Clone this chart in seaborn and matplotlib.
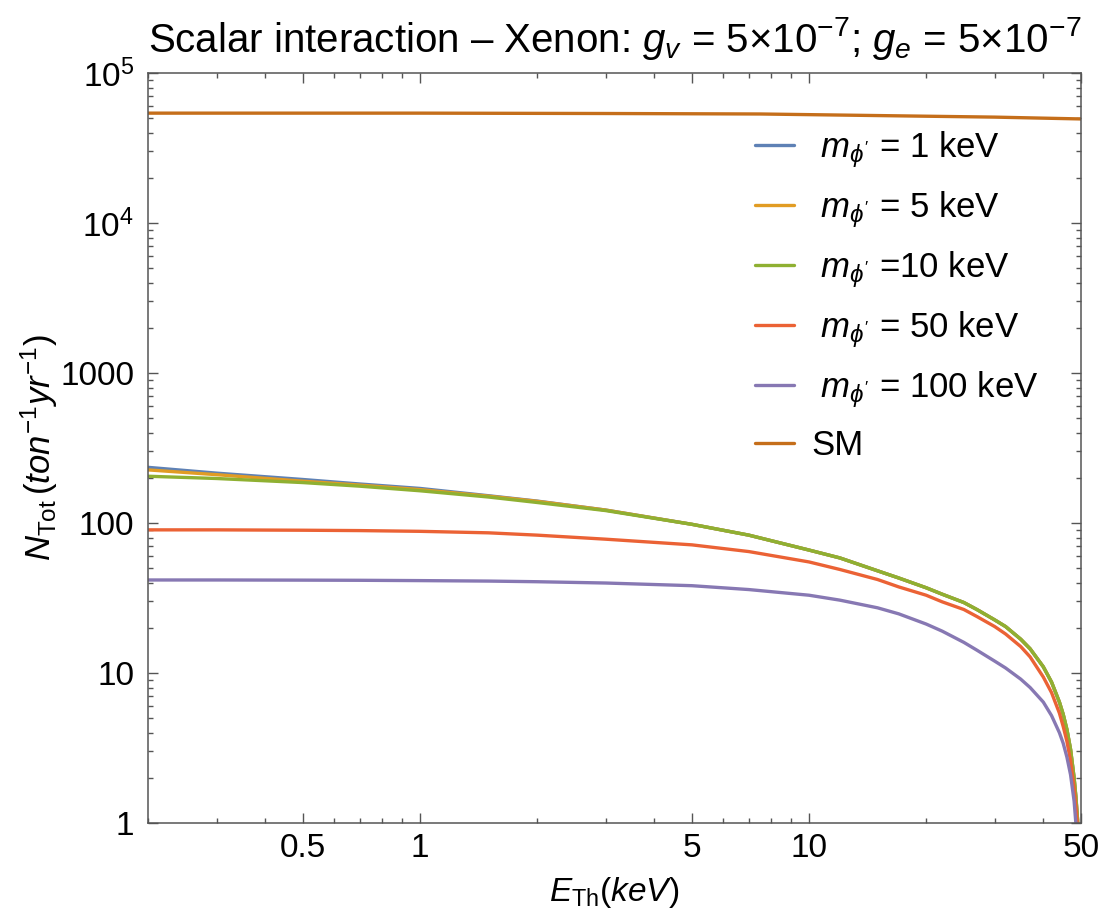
import numpy as np
import pandas as pd
import matplotlib
matplotlib.use("Agg")
import matplotlib.pyplot as plt
import seaborn as sns
from matplotlib.ticker import FixedLocator, NullFormatter, LogLocator

# ---------------- data ----------------
E_grid = [0.2, 0.3, 0.5, 0.7, 1.0, 1.5, 2.0, 3.0, 5.0, 7.0, 10.0, 12.0, 15.0,
          17.0, 20.0, 22.0, 25.0, 27.0, 30.0, 32.0, 35.0, 37.0, 40.0, 42.0,
          44.0, 45.0, 46.0, 47.0, 48.0, 48.5, 49.0, 49.3]

N_m1 = [235, 215, 195, 182, 170, 152, 140, 122, 98, 83, 66, 58.5, 48,
        43, 37, 33.5, 29.5, 26.5, 22.6, 20.4, 16.8, 14.5, 11.0, 8.7,
        6.4, 5.3, 4.2, 3.1, 2.0, 1.5, 1.05, 0.7]
N_m5 = [226, 210, 190, 179, 167, 151, 139.5, 122, 98, 83, 66, 58.5, 48,
        43, 37, 33.5, 29.5, 26.5, 22.6, 20.4, 16.8, 14.5, 11.0, 8.7,
        6.4, 5.3, 4.2, 3.1, 2.0, 1.5, 1.05, 0.7]
N_m10 = [205, 198, 186, 176, 164, 149, 137, 121, 98, 83, 66, 58.5, 48,
         43, 37, 33.5, 29.5, 26.5, 22.6, 20.4, 16.8, 14.5, 11.0, 8.7,
         6.4, 5.3, 4.2, 3.1, 2.0, 1.5, 1.05, 0.7]
N_m50 = [90, 90, 89.5, 89, 88, 86, 83, 78, 71.5, 64.5, 55, 49, 42,
         37.5, 33, 29.8, 26.5, 23.8, 20.4, 18.2, 15.0, 12.8, 9.4, 7.4,
         5.4, 4.4, 3.5, 2.6, 1.7, 1.3, 0.95, 0.65]
N_m100 = [41.7, 41.7, 41.6, 41.5, 41.3, 41.0, 40.6, 39.8, 38.2, 36, 33, 30.6, 27.2,
          24.8, 21.2, 19.0, 16.0, 14.2, 12.0, 10.8, 9.1, 8.0, 6.4, 5.2,
          4.0, 3.4, 2.75, 2.1, 1.4, 1.0, 0.6, 0.35]

E_sm = [0.2, 1.0, 3.0, 7.5, 18.0, 30.0, 40.0, 50.0]
N_sm = [54000, 54000, 53700, 53300, 51700, 50800, 50000, 49400]

labels = [" $m_{\\phi'}$ = 1 keV", " $m_{\\phi'}$ = 5 keV", " $m_{\\phi'}$ =10 keV",
          " $m_{\\phi'}$ = 50 keV", " $m_{\\phi'}$ = 100 keV", "SM"]
colors = ["#5E81B5", "#E19C24", "#8FB032", "#EB6235", "#8778B3", "#C56E1A"]

xticks = [0.5, 1, 5, 10, 50]
xticklabels = ["0.5", "1", "5", "10", "50"]
yticks = [1, 10, 100, 1000, 1e4, 1e5]
yticklabels = ["1", "10", "100", "1000", "$10^4$", "$10^5$"]

title = ("Scalar interaction \u2013 Xenon: $g_v$ = 5\u00d710$^{-7}$; "
         "$g_e$ = 5\u00d710$^{-7}$")

# ---------------- build long table ----------------
frames = []
for lab, vals in zip(labels[:5], [N_m1, N_m5, N_m10, N_m50, N_m100]):
    frames.append(pd.DataFrame({"E": E_grid, "N": vals, "series": lab}))
frames.append(pd.DataFrame({"E": E_sm, "N": N_sm, "series": labels[5]}))
df = pd.concat(frames, ignore_index=True)

# ---------------- style ----------------
sns.set_theme(style="ticks")
plt.rcParams["font.family"] = ["Liberation Sans", "DejaVu Sans"]
plt.rcParams["mathtext.fontset"] = "custom"
plt.rcParams["mathtext.rm"] = "Liberation Sans"
plt.rcParams["mathtext.it"] = "Liberation Sans:italic"
plt.rcParams["mathtext.bf"] = "Liberation Sans:bold"
plt.rcParams["text.color"] = "black"
plt.rcParams["axes.labelcolor"] = "black"

fig = plt.figure(figsize=(11.04, 9.21), dpi=100)
ax = fig.add_axes([148 / 1104, 1 - 823 / 921, (1081 - 148) / 1104, (823 - 73) / 921])

palette = dict(zip(labels, colors))
sns.lineplot(data=df, x="E", y="N", hue="series", hue_order=labels,
             palette=palette, estimator=None, sort=False, linewidth=2.4,
             ax=ax, legend=True)

ax.set_xscale("log")
ax.set_yscale("log")
ax.set_xlim(0.2, 50)
ax.set_ylim(1, 1e5)

ax.xaxis.set_major_locator(FixedLocator(xticks))
ax.set_xticklabels(xticklabels)
ax.xaxis.set_minor_locator(LogLocator(base=10, subs=np.arange(2, 10)))
ax.xaxis.set_minor_formatter(NullFormatter())
ax.yaxis.set_major_locator(FixedLocator(yticks))
ax.set_yticklabels(yticklabels)
ax.yaxis.set_minor_locator(LogLocator(base=10, subs=np.arange(2, 10)))
ax.yaxis.set_minor_formatter(NullFormatter())

frame_col = "#555555"
for sp in ax.spines.values():
    sp.set_color(frame_col)
    sp.set_linewidth(1.1)
ax.tick_params(which="both", direction="in", top=True, right=True,
               color=frame_col, width=1.0, labelcolor="black")
ax.tick_params(which="major", length=7, labelsize=24)
ax.tick_params(which="minor", length=3.8)
ax.tick_params(axis="y", which="major", pad=10)
ax.tick_params(axis="x", which="major", pad=7)

ax.set_xlabel("$E_{\\mathrm{Th}}(keV)$", fontsize=24, labelpad=8)
ax.set_ylabel("$N_{\\mathrm{Tot}}\\,(ton^{-1}yr^{-1})$", fontsize=25, labelpad=0)
ax.set_title(title, fontsize=29, pad=15, color="black")

handles, labs = ax.get_legend_handles_labels()
ax.legend(handles, labs, loc="upper left", bbox_to_anchor=(0.651, 0.925),
          frameon=False, fontsize=25, handlelength=1.1, handletextpad=0.5,
          labelspacing=0.55, borderpad=0, borderaxespad=0)

fig.savefig("out.png", dpi=100)
